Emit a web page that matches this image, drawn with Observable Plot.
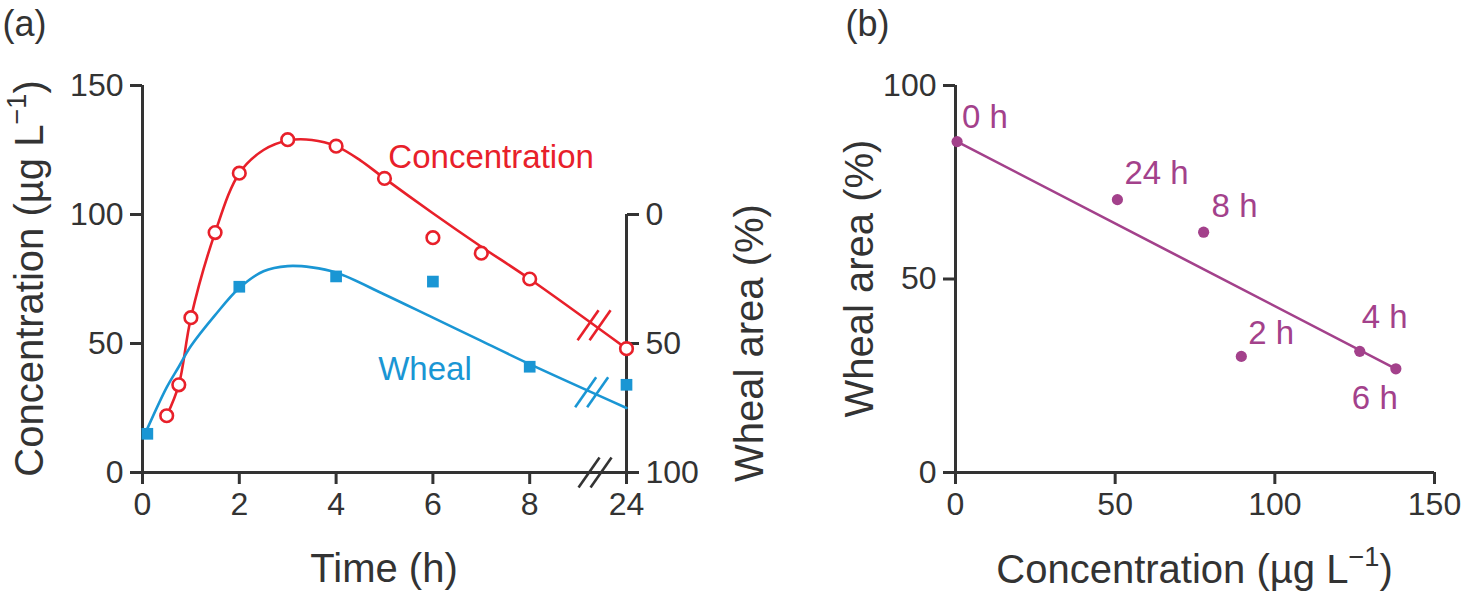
<!DOCTYPE html>
<html>
<head>
<meta charset="utf-8">
<script src="https://cdn.jsdelivr.net/npm/d3@7"></script>
<script src="https://cdn.jsdelivr.net/npm/@observablehq/plot@0.6"></script>
<style>
  html, body { margin: 0; padding: 0; background: #fff; }
  #root { position: relative; width: 1470px; height: 594px; overflow: hidden; }
  #root svg { position: absolute; top: 0; }
</style>
</head>
<body>
<div id="root"></div>
<script>
// ---------------- Data: panel (a) ----------------
const concTimes   = [0.5, 0.75, 1, 1.5, 2, 3, 4, 5, 6, 7, 8, 24];
const concValues  = [22, 34, 60, 93, 116, 129, 126.5, 114, 91, 85, 75, 48];
const whealTimes  = [0.1, 2, 4, 6, 8, 24];
const whealValues = [85, 28, 24, 26, 59, 66];            // wheal area (%)
const concFitTimes  = [0.5, 0.75, 1, 1.5, 2, 2.5, 3, 3.5, 4, 4.5, 5, 6, 7, 8, 24];
const concFitValues = [22, 34, 60, 93, 116, 125, 128.7, 128.9, 126.5, 121, 114, 100.5, 87.5, 75, 48];
const whealFitTimes  = [0.1, 0.5, 0.75, 1, 1.5, 2, 2.5, 3, 3.5, 4, 5, 6, 7, 8, 24];
const whealFitValues = [83, 67, 59, 51, 39, 28.5, 22, 20, 20.5, 22.5, 31, 40, 49, 58, 75];
const timeTicks   = [0, 2, 4, 6, 8, 24];
const concTicks   = [0, 50, 100, 150];
const whealTicks  = [0, 50, 100];
const seriesNames = ["Concentration", "Wheal"];

// ---------------- Data: panel (b) ----------------
const pointLabels = ["0 h", "24 h", "8 h", "2 h", "4 h", "6 h"];
const pointConc   = [0.5, 50.7, 77.7, 89.5, 126.6, 137.9];
const pointWheal  = [85.5, 70.5, 62.1, 30.0, 31.3, 26.8];
const fitConc     = [0.5, 137.9];
const fitWheal    = [85.5, 26.8];
const bConcTicks  = [0, 50, 100, 150];
const bWhealTicks = [0, 50, 100];

// ---------------- Styles ----------------
const RED = "#e8202a", BLUE = "#1a96d4", PURPLE = "#a3418b", AXIS = "#333333";
const FONT = "'Liberation Sans', Arial, Helvetica, sans-serif";
const TICK_FS = 32, TITLE_FS = 40, LABEL_FS = 33;

// broken time axis: 24 h sits one tick step after 8 h
const LAST = 10;
const pos = t => (t > 8 ? LAST : t);
const BREAK = 9.33;

const W_A = 800, H = 594;
const mA = {left: 142, right: 174, top: 85, bottom: 122};
const pxPerPos = (W_A - mA.left - mA.right) / LAST;
const pxPerConc = (H - mA.top - mA.bottom) / 150;

const conc = concTimes.map((t, i) => ({x: pos(t), y: concValues[i]}));
const wheal = whealTimes.map((t, i) => ({x: pos(t), y: 100 - whealValues[i]}));
const concFit = concFitTimes.map((t, i) => ({x: pos(t), y: concFitValues[i]}));
const whealFit = whealFitTimes.map((t, i) => ({x: pos(t), y: 100 - whealFitValues[i]}));

function valueAt(series, p) {
  const a = series[series.length - 2], b = series[series.length - 1];
  return a.y + (b.y - a.y) * (p - a.x) / (b.x - a.x);
}
// break slashes (two parallel strokes, half width 10.5px, half height 15px, 12px apart)
function slashes(cx, cy) {
  const hw = 10.5 / pxPerPos, hh = 15 / pxPerConc, s = 6 / pxPerPos;
  return [-s, s].map(o => ({x1: cx + o - hw, y1: cy - hh, x2: cx + o + hw, y2: cy + hh}));
}
const breaks = [
  ...slashes(BREAK, valueAt(concFit, BREAK)).map(d => ({...d, c: RED})),
  ...slashes(BREAK - 0.05, valueAt(whealFit, BREAK - 0.05)).map(d => ({...d, c: BLUE})),
  ...slashes(BREAK + 0.02, 0).map(d => ({...d, c: AXIS}))
];

const labelA = [
  {text: seriesNames[0], x: 5.08, y: 118.2, c: RED},
  {text: seriesNames[1], x: 4.87, y: 35.7, c: BLUE}
];

const plotA = Plot.plot({
  width: W_A, height: H,
  marginLeft: mA.left, marginRight: mA.right, marginTop: mA.top, marginBottom: mA.bottom,
  style: {fontFamily: FONT, fontSize: TICK_FS + "px", color: AXIS, background: "transparent", overflow: "visible"},
  x: {domain: [0, LAST]},
  y: {domain: [0, 150]},
  marks: [
    Plot.ruleX([0], {y1: 0, y2: 150, stroke: AXIS, strokeWidth: 3}),
    Plot.ruleY([0], {x1: 0, x2: LAST, stroke: AXIS, strokeWidth: 3}),
    Plot.ruleX([LAST], {y1: 0, y2: 100, stroke: AXIS, strokeWidth: 3}),
    Plot.axisX({ticks: timeTicks.map(pos), tickFormat: (d, i) => String(timeTicks[i]), tickSize: 12, tickPadding: 8, strokeWidth: 3, label: null}),
    Plot.axisY({ticks: concTicks, tickSize: 12, tickPadding: 7, strokeWidth: 3, label: null}),
    Plot.axisY({anchor: "right", ticks: whealTicks.map(w => 100 - w), tickFormat: d => String(100 - d), tickSize: 12, tickPadding: 7, strokeWidth: 3, label: null}),
    Plot.line(concFit, {x: "x", y: "y", stroke: RED, strokeWidth: 2.6, curve: "catmull-rom"}),
    Plot.line(whealFit, {x: "x", y: "y", stroke: BLUE, strokeWidth: 2.6, curve: "catmull-rom"}),
    Plot.link(breaks, {x1: "x1", y1: "y1", x2: "x2", y2: "y2", stroke: "c", strokeWidth: 2.6}),
    Plot.dot(wheal, {x: "x", y: "y", symbol: "square", r: 6.6, fill: BLUE, stroke: "none"}),
    Plot.dot(conc, {x: "x", y: "y", r: 6.3, fill: "white", stroke: RED, strokeWidth: 2.6}),
    Plot.text(labelA, {x: "x", y: "y", text: "text", fill: "c", fontSize: LABEL_FS, textAnchor: "start", lineAnchor: "bottom"}),
    Plot.text(["(a)"], {frameAnchor: "top-left", dx: -mA.left + 2, dy: -mA.top + 35, fontSize: 36, fill: AXIS, textAnchor: "start", lineAnchor: "bottom"})
  ]
});

// ---------------- Panel (b) ----------------
const W_B = 670, X_B = 800;
const mB = {left: 155, right: 36, top: 85, bottom: 122};
const pts = pointLabels.map((l, i) => ({label: l, x: pointConc[i], y: pointWheal[i]}));
const fit = fitConc.map((c, i) => ({x: c, y: fitWheal[i]}));
const labelDx = [5, 7, 8, 7, 2, -44];
const labelDy = [-14, -16, -15, -12, -23, 40];

const plotB = Plot.plot({
  width: W_B, height: H,
  marginLeft: mB.left, marginRight: mB.right, marginTop: mB.top, marginBottom: mB.bottom,
  style: {fontFamily: FONT, fontSize: TICK_FS + "px", color: AXIS, background: "transparent", overflow: "visible"},
  x: {domain: [0, 150]},
  y: {domain: [0, 100]},
  marks: [
    Plot.ruleX([0], {y1: 0, y2: 100, stroke: AXIS, strokeWidth: 3}),
    Plot.ruleY([0], {x1: 0, x2: 150, stroke: AXIS, strokeWidth: 3}),
    Plot.axisX({ticks: bConcTicks, tickSize: 12, tickPadding: 8, strokeWidth: 3, label: null}),
    Plot.axisY({ticks: bWhealTicks, tickSize: 12, tickPadding: 7, strokeWidth: 3, label: null}),
    Plot.line(fit, {x: "x", y: "y", stroke: PURPLE, strokeWidth: 2.6}),
    Plot.dot(pts, {x: "x", y: "y", r: 5.6, fill: PURPLE, stroke: "none"}),
    ...pts.map((p, i) => Plot.text([p], {x: "x", y: "y", text: "label", fill: PURPLE, fontSize: LABEL_FS, textAnchor: "start", lineAnchor: "bottom", dx: labelDx[i], dy: labelDy[i]})),
    Plot.text(["(b)"], {frameAnchor: "top-left", dx: -mB.left + 45, dy: -mB.top + 35, fontSize: 36, fill: AXIS, textAnchor: "start", lineAnchor: "bottom"})
  ]
});

// ---------------- Axis titles (with superscript) ----------------
function addTitle(svg, x, y, rotate, parts) {
  const t = d3.select(svg).append("text")
    .attr("transform", `translate(${x},${y}) rotate(${rotate})`)
    .attr("text-anchor", "middle")
    .attr("fill", AXIS)
    .attr("font-family", FONT)
    .attr("font-size", TITLE_FS);
  parts.forEach(p => {
    const s = t.append("tspan").text(p.text);
    if (p.sup) s.attr("font-size", TITLE_FS * 0.68).attr("dy", -17);
    if (p.after) s.attr("dy", 17);
  });
}
const concTitle = [{text: "Concentration (µg L"}, {text: "−1", sup: true}, {text: ")", after: true}];

const svgA = plotA;
addTitle(svgA, 43, (mA.top + H - mA.bottom) / 2, -90, concTitle);
addTitle(svgA, 763, 343, -90, [{text: "Wheal area (%)"}]);
addTitle(svgA, mA.left + (W_A - mA.left - mA.right) / 2, 582, 0, [{text: "Time (h)"}]);

const svgB = plotB;
addTitle(svgB, 73, (mB.top + H - mB.bottom) / 2, -90, [{text: "Wheal area (%)"}]);
addTitle(svgB, mB.left + (W_B - mB.left - mB.right) / 2, 583, 0, concTitle);

svgA.style.left = "0px";
svgB.style.left = X_B + "px";
document.getElementById("root").append(svgA, svgB);
</script>
</body>
</html>
